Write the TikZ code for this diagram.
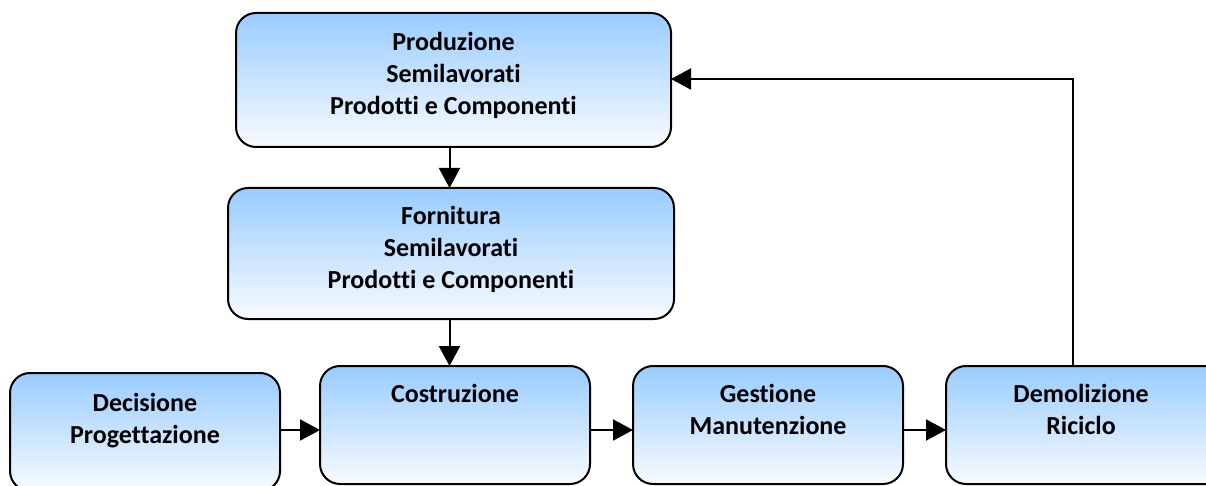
\documentclass[tikz,border=0pt]{standalone}
\usepackage{fontspec}
\setmainfont[Ligatures=NoCommon]{Carlito}
\usetikzlibrary{arrows.meta}
\definecolor{boxtop}{RGB}{153,204,255}
\definecolor{boxbot}{RGB}{248,251,255}
\begin{document}
\begin{tikzpicture}[x=1pt,y=-1pt,
  box/.style={draw=black, line width=2pt, rounded corners=20pt, rectangle,
    top color=boxtop, bottom color=boxbot, inner sep=0pt, outer sep=0pt},
  wide/.style={minimum width=270pt, minimum height=118pt},
  txt/.style={anchor=north, inner sep=0pt, align=center,
    font=\fontsize{26}{32}\selectfont\bfseries},
  arr/.style={line width=2pt, -{Triangle[width=21pt,length=20pt]}}]
\clip (0,0) rectangle (1206,486);
% boxes
\node[box, minimum width=435pt, minimum height=134pt] (prod) at (453.5,80) {};
\node[box, minimum width=446pt, minimum height=131pt] (forn) at (451,253.5) {};
\node[box, wide] (dec) at (145,432) {};
\node[box, wide] (cost) at (455,425) {};
\node[box, wide] (gest) at (768,425) {};
\node[box, minimum width=300pt, minimum height=118pt] (demo) at (1096,425) {};
% texts
\node[txt] (tprod) at ([yshift=-17pt]prod.north) {\rule{0pt}{20pt}Produzione\\Semilavorati\\Prodotti e Componenti};
\node[txt] (tforn) at ([yshift=-16pt]forn.north) {\rule{0pt}{20pt}Fornitura\\Semilavorati\\Prodotti e Componenti};
\node[txt] (tdec) at ([yshift=-18pt]dec.north) {\rule{0pt}{20pt}Decisione\\Progettazione};
\node[txt] (tcost) at ([yshift=-16pt]cost.north) {\rule{0pt}{20pt}Costruzione};
\node[txt] (tgest) at ([yshift=-16pt]gest.north) {\rule{0pt}{20pt}Gestione\\Manutenzione};
\node[txt] (tdemo) at ([yshift=-16pt]demo.north -| 1081,0) {\rule{0pt}{20pt}Demolizione\\Riciclo};
% connectors
\coordinate (vx) at (449.5,0);
\coordinate (hy) at (0,430);
\coordinate (fb) at (1073,79);
\draw[arr] (prod.south -| vx) -- (forn.north -| vx);
\draw[arr] (forn.south -| vx) -- (cost.north -| vx);
\draw[arr] (dec.east |- hy) -- (cost.west |- hy);
\draw[arr] (cost.east |- hy) -- (gest.west |- hy);
\draw[arr] (gest.east |- hy) -- (demo.west |- hy);
\draw[arr] (demo.north -| fb) -- (fb) -- (prod.east |- fb);
\end{tikzpicture}
\end{document}
